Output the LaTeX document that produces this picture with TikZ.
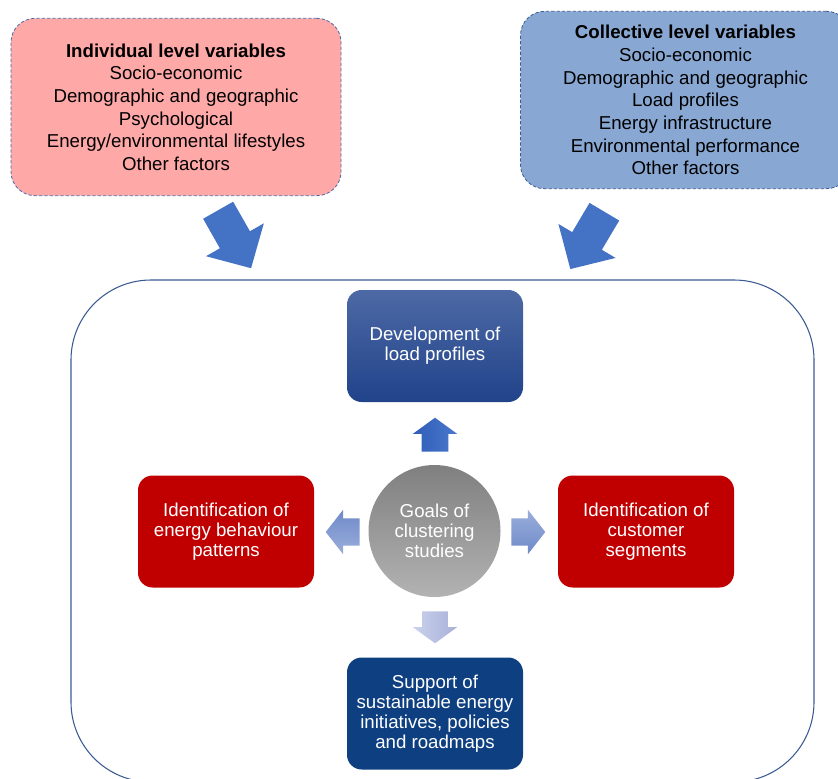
\documentclass[tikz,border=0pt]{standalone}
\usepackage{fontspec}
\setmainfont{Liberation Sans}
\usetikzlibrary{shapes.arrows}
\definecolor{pinkfill}{HTML}{FFA8A8}
\definecolor{bluefill}{HTML}{88A8D3}
\definecolor{dashline}{HTML}{4A6AA5}
\definecolor{arrowblue}{HTML}{4472C4}
\definecolor{frameline}{HTML}{3A5A92}
\definecolor{goalred}{HTML}{C00000}
\definecolor{navy}{HTML}{0E3F80}
\definecolor{proftop}{HTML}{4D69A5}
\definecolor{profbot}{HTML}{21438A}
\definecolor{uptop}{HTML}{4A78CC}
\definecolor{upbot}{HTML}{2F5DB8}
\definecolor{sidetop}{HTML}{9AAEDC}
\definecolor{sidebot}{HTML}{6F8AC8}
\definecolor{downtop}{HTML}{CAD2EC}
\definecolor{downbot}{HTML}{A8B1D8}
\begin{document}
\begin{tikzpicture}[x=0.75pt, y=-0.75pt,
    varbox/.style={draw=dashline, dash pattern=on 2.5pt off 1.5pt, line width=0.6pt,
      rounded corners=18pt, minimum width=247.5pt, minimum height=133pt,
      align=center, font=\fontsize{14}{17}\selectfont},
    goalbox/.style={rounded corners=11pt, minimum width=132pt, minimum height=84pt,
      inner sep=0pt, align=center, text=white, font=\fontsize{14}{15}\selectfont},
    blockarrow/.style={single arrow, anchor=tail, inner xsep=0pt, inner ysep=9.75pt,
      minimum height=25.5pt, single arrow head extend=6.75pt, single arrow tip angle=108},
    bigarrow/.style={single arrow, anchor=tail, inner xsep=0pt, inner ysep=12.75pt,
      fill=arrowblue, minimum height=50pt, single arrow head extend=12pt,
      single arrow tip angle=91}]
    %\draw [help lines, thin] (0, 0) grid[step=50] (838, 778);
    \useasboundingbox (0, 0) rectangle (838, 778);
    \draw[frameline, line width=0.8pt, rounded corners=60pt] (71, 280) rectangle (814, 782);
    \node[varbox, fill=pinkfill] (indiv) at (176, 107) {\textbf{Individual level variables}\\
      Socio-economic\\ Demographic and geographic\\ Psychological\\
      Energy/environmental lifestyles\\ Other factors};
    \node[varbox, fill=bluefill, draw=frameline] (collect) at (685.5, 100) {\textbf{Collective level variables}\\
      Socio-economic\\ Demographic and geographic\\ Load profiles\\
      Energy infrastructure\\ Environmental performance\\ Other factors};
    \node[bigarrow, rotate=-60.4] (arrIndiv) at (218, 210) {};
    \node[bigarrow, rotate=-120.7] (arrCollect) at (604.5, 211.5) {};
    \node[circle, minimum size=99pt, inner sep=0pt, top color=black!50, bottom color=black!30,
      text=white, align=center, font=\fontsize{14}{15}\selectfont] (goals) at (434.5, 531)
      {Goals of\\ clustering\\ studies};
    \node[goalbox, top color=proftop, bottom color=profbot] (profiles) at (435, 346)
      {Development of\\ load profiles};
    \node[goalbox, fill=goalred] (patterns) at (226, 531.5)
      {Identification of\\ energy behaviour\\ patterns};
    \node[goalbox, fill=goalred] (segments) at (646, 531.5)
      {Identification of\\ customer\\ segments};
    \node[goalbox, fill=navy] (support) at (435, 713.5)
      {Support of\\ sustainable energy\\ initiatives, policies\\ and roadmaps};
    \node[blockarrow, rotate=90, right color=uptop, left color=upbot] (arrUp) at (435, 452) {};
    \node[blockarrow, rotate=180, inner ysep=10.1pt, single arrow tip angle=104,
      single arrow head extend=6.4pt, bottom color=sidetop, top color=sidebot] (arrLeft) at (360, 532) {};
    \node[blockarrow, inner ysep=10.1pt, single arrow tip angle=104,
      single arrow head extend=6.4pt, top color=sidetop, bottom color=sidebot] (arrRight) at (511, 532) {};
    \node[blockarrow, rotate=-90, inner ysep=9.4pt, minimum height=24pt,
      single arrow head extend=7.1pt, left color=downtop, right color=downbot] (arrDown) at (435, 611) {};
\end{tikzpicture}
\end{document}
